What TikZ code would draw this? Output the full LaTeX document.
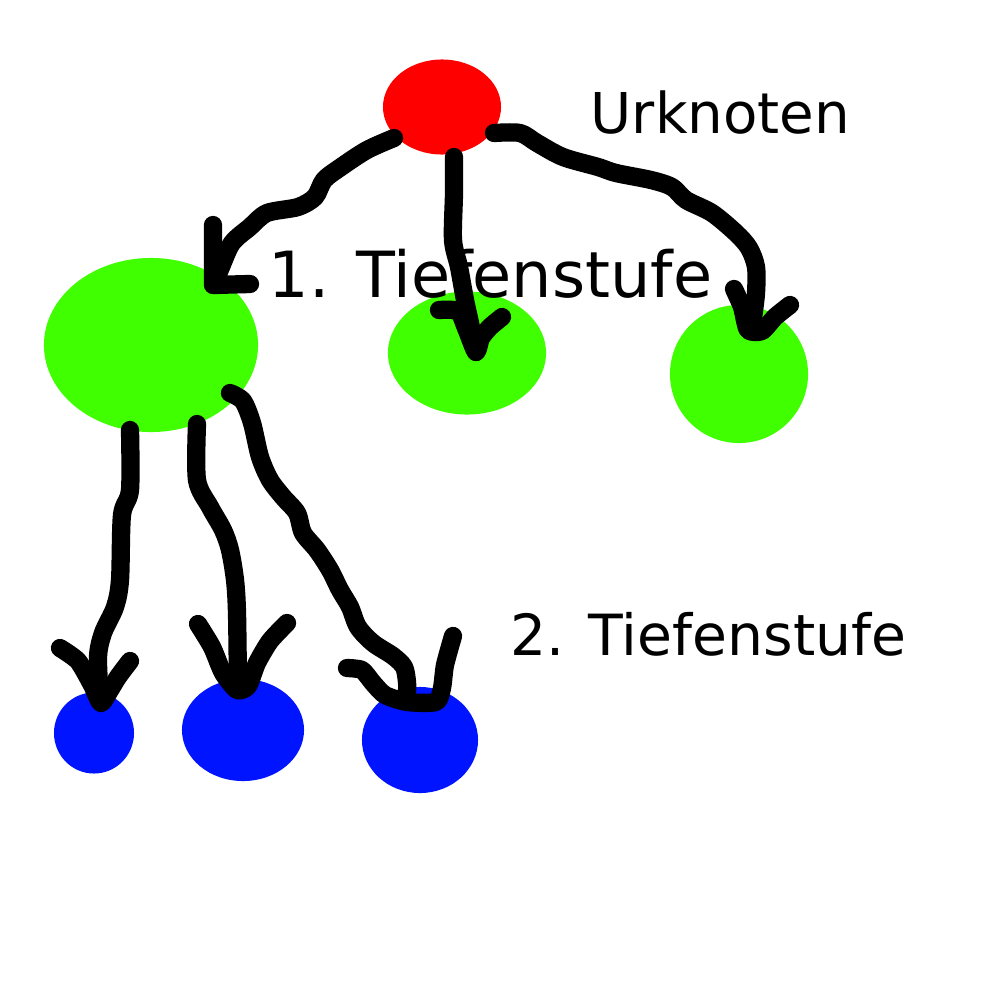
\documentclass[tikz,border=0pt]{standalone}
\usepackage{fontspec}
\setmainfont{DejaVu Sans}
\usetikzlibrary{shapes.geometric}
\definecolor{rootred}{HTML}{FF0000}
\definecolor{lvlgreen}{HTML}{40FF00}
\definecolor{lvlblue}{HTML}{0014FF}
\begin{document}
\begin{tikzpicture}[x=0.01cm,y=-0.01cm,
  blob/.style={ellipse,inner sep=0pt,draw=none},
  pen/.style={line width=5.2pt,line cap=round,line join=round,black},
  lbl/.style={anchor=base west,inner sep=0pt}]
\useasboundingbox (0,0) rectangle (1000,1000);
\fill[white] (0,0) rectangle (1000,1000);
% nodes
\node[blob,fill=rootred,minimum width=1.18cm,minimum height=0.95cm] (root) at (442,107) {};
\node[blob,fill=lvlgreen,minimum width=2.14cm,minimum height=1.74cm] (g1) at (151,345) {};
\node[blob,fill=lvlgreen,minimum width=1.58cm,minimum height=1.23cm] (g2) at (467,353) {};
\node[blob,fill=lvlgreen,minimum width=1.38cm,minimum height=1.38cm] (g3) at (739,374) {};
\node[blob,fill=lvlblue,minimum width=0.80cm,minimum height=0.81cm] (b1) at (94,733) {};
\node[blob,fill=lvlblue,minimum width=1.22cm,minimum height=1.02cm] (b2) at (243,730) {};
\node[blob,fill=lvlblue,minimum width=1.16cm,minimum height=1.06cm] (b3) at (420,740) {};
% labels
\node[lbl,font=\fontsize{16pt}{19pt}\selectfont] (t0) at (590,133) {Urknoten};
\node[lbl,font=\fontsize{18.1pt}{22pt}\selectfont] (t1) at (268,297) {1. Tiefenstufe};
\node[lbl,font=\fontsize{16.15pt}{20pt}\selectfont] (t2) at (510,655) {2. Tiefenstufe};
% root -> g1
\draw[pen] plot[smooth,tension=0.5] coordinates {(394,138) (367,150) (341,167) (324,180) (315,197) (298,207) (267,213) (250,227) (232,243) (221,267) (215,282)};
\draw[pen] (213,225) -- (213,285) -- (250,284);
% root -> g2
\draw[pen] plot[smooth,tension=0.5] coordinates {(454,157) (454,193) (453,240) (459,267) (465,300) (470,323) (476,352)};
\draw[pen] plot[smooth,tension=0.4] coordinates {(439,310) (458,311) (466,328) (476,352) (481,338) (490,327) (502,317)};
% root -> g3
\draw[pen] plot[smooth,tension=0.5] coordinates {(494,133) (520,133) (537,143) (563,157) (598,167) (616,173) (651,180) (672,187) (686,200) (712,213) (736,233) (749,248) (756,267) (756,293) (753,318)};
\draw[pen] plot[smooth,tension=0.4] coordinates {(734,289) (742,307) (748,330) (762,331) (775,317) (790,305)};
% g1 -> b1
\draw[pen] plot[smooth,tension=0.5] coordinates {(130,430) (130,490) (122,515) (120,580) (115,607) (103,633) (98,657) (100,700)};
\draw[pen] plot[smooth,tension=0.4] coordinates {(60,648) (78,661) (92,685) (101,703) (110,690) (118,677) (130,661)};
% g1 -> b2
\draw[pen] plot[smooth,tension=0.5] coordinates {(197,424) (197,480) (210,507) (223,530) (230,550) (235,580) (237,613) (238,688)};
\draw[pen] plot[smooth,tension=0.4] coordinates {(198,624) (212,647) (223,673) (237,690) (248,686) (257,663) (270,641) (287,623)};
% g1 -> b3
\draw[pen] plot[smooth,tension=0.5] coordinates {(230,393) (243,401) (252,423) (260,457) (270,480) (283,497) (297,513) (303,533) (317,550) (330,570) (340,590) (350,607) (358,627) (373,643) (393,656) (404,667) (407,682) (407,692)};
\draw[pen] plot[smooth,tension=0.4] coordinates {(347,668) (362,670) (373,683) (385,695) (407,702) (436,702) (442,688) (445,665) (453,636)};
\end{tikzpicture}
\end{document}
